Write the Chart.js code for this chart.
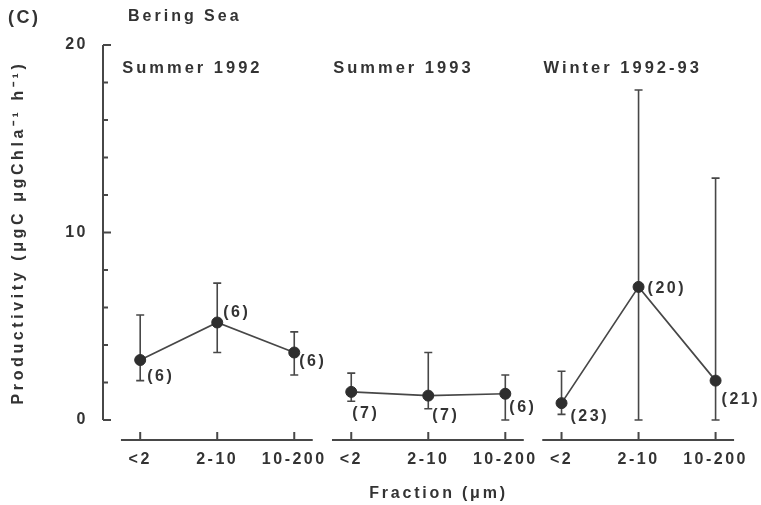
<!DOCTYPE html>
<html>
<head>
<meta charset="utf-8">
<script src="https://cdn.jsdelivr.net/npm/chart.js@4"></script>
<style>
  html, body { margin: 0; padding: 0; background: #fff; }
  #wrap { width: 761px; height: 505px; position: relative; }
</style>
</head>
<body>
<div id="wrap"><canvas id="prodChart"></canvas></div>
<script>
// data
const fractions = ['<2', '2-10', '10-200'];
const seasons = ['Summer 1992', 'Summer 1993', 'Winter 1992-93'];
const meanValues = [[3.2, 5.2, 3.6], [1.5, 1.3, 1.4], [0.9, 7.1, 2.1]];
const upperValues = [[5.6, 7.3, 4.7], [2.5, 3.6, 2.4], [2.6, 17.6, 12.9]];
const lowerValues = [[2.1, 3.6, 2.4], [1.0, 0.6, 0.0], [0.3, 0.0, 0.0]];
const sampleSizes = [[6, 6, 6], [7, 7, 6], [23, 20, 21]];
const yTicks = [0, 10, 20];

// layout
const panelStart = [0, 2.74, 5.47];
const labelOffsets = [
    [[7, 17], [6, -10], [5, 9]],
    [[1, 22], [4, 20], [4, 14]],
    [[9, 13], [9, 2], [6, 19]]
];
const textColor = '#333';
const lineColor = '#474747';
const FONT = '"Liberation Sans", Arial, sans-serif';

const tickPositions = [];
panelStart.forEach(s => fractions.forEach((f, i) => tickPositions.push(s + i)));

const datasets = seasons.map((season, p) => ({
    label: season,
    data: fractions.map((f, i) => ({ x: panelStart[p] + i, y: meanValues[p][i] })),
    borderColor: lineColor,
    borderWidth: 1.7,
    backgroundColor: '#2e2e2e',
    pointBackgroundColor: '#2e2e2e',
    pointBorderColor: '#2e2e2e',
    pointRadius: 5.5,
    pointBorderWidth: 1,
    clip: false
}));

function setSpacing(chart) {
    chart.ctx.letterSpacing = '2.5px';
}

// small tweaks to how the axis titles are drawn
function patchTitle(scale, spacing, shiftX) {
    if (!scale || scale._patchedTitle) return;
    const orig = scale.drawTitle;
    scale.drawTitle = function (...args) {
        const ctx = this.ctx;
        ctx.save();
        ctx.letterSpacing = spacing;
        ctx.translate(shiftX, 0);
        orig.apply(this, args);
        ctx.restore();
    };
    scale._patchedTitle = true;
}

const decorPlugin = {
    id: 'decor',
    beforeUpdate: setSpacing,
    beforeLayout: setSpacing,
    beforeDraw(chart) {
        setSpacing(chart);
        patchTitle(chart.scales.y, '3.6px', 0);
        patchTitle(chart.scales.x, '2.8px', 16);
    },
    beforeDatasetsDraw(chart) {
        const { ctx, scales: { y } } = chart;
        ctx.save();
        ctx.strokeStyle = lineColor;
        ctx.lineWidth = 1.6;
        chart.data.datasets.forEach((ds, p) => {
            chart.getDatasetMeta(p).data.forEach((pt, i) => {
                const top = y.getPixelForValue(upperValues[p][i]);
                const bot = y.getPixelForValue(lowerValues[p][i]);
                ctx.beginPath();
                ctx.moveTo(pt.x, top); ctx.lineTo(pt.x, bot);
                ctx.moveTo(pt.x - 4, top); ctx.lineTo(pt.x + 4, top);
                ctx.moveTo(pt.x - 4, bot); ctx.lineTo(pt.x + 4, bot);
                ctx.stroke();
            });
        });
        ctx.restore();
    },
    afterDatasetsDraw(chart) {
        const { ctx } = chart;
        ctx.save();
        ctx.letterSpacing = '2.5px';
        ctx.fillStyle = textColor;
        ctx.font = 'bold 16px ' + FONT;
        ctx.textAlign = 'left';
        ctx.textBaseline = 'middle';
        chart.data.datasets.forEach((ds, p) => {
            chart.getDatasetMeta(p).data.forEach((pt, i) => {
                const off = labelOffsets[p][i];
                ctx.fillText('(' + sampleSizes[p][i] + ')', pt.x + off[0], pt.y + off[1]);
            });
        });
        ctx.restore();
    },
    afterDraw(chart) {
        const { ctx, chartArea, scales: { x, y } } = chart;
        ctx.save();
        ctx.strokeStyle = lineColor;
        ctx.lineWidth = 2;
        // y axis with inward ticks
        const ax = chartArea.left - 1;
        ctx.beginPath();
        ctx.moveTo(ax, y.getPixelForValue(20));
        ctx.lineTo(ax, y.getPixelForValue(0));
        for (let v = 0; v <= 20; v += 2) {
            const py = y.getPixelForValue(v);
            const len = yTicks.includes(v) ? 8 : 5;
            ctx.moveTo(ax, py);
            ctx.lineTo(ax + len, py);
        }
        ctx.stroke();
        // broken x axis, one segment per season
        const baseY = chartArea.bottom + 20;
        panelStart.forEach(s => {
            ctx.beginPath();
            ctx.moveTo(x.getPixelForValue(s - 0.25), baseY);
            ctx.lineTo(x.getPixelForValue(s + 2.24), baseY);
            fractions.forEach((f, i) => {
                const px = x.getPixelForValue(s + i);
                ctx.moveTo(px, baseY);
                ctx.lineTo(px, baseY - 8);
            });
            ctx.stroke();
        });
        // titles
        ctx.letterSpacing = '2.5px';
        ctx.fillStyle = textColor;
        ctx.textBaseline = 'middle';
        ctx.textAlign = 'left';
        ctx.font = 'bold 18px ' + FONT;
        ctx.fillText('(C)', 8, 18);
        ctx.letterSpacing = '3px';
        ctx.font = 'bold 16px ' + FONT;
        ctx.fillText('Bering Sea', 128, 17);
        ctx.font = 'bold 16.5px ' + FONT;
        seasons.forEach((season, p) => {
            ctx.fillText(season, x.getPixelForValue(panelStart[p]) - 18, 68);
        });
        ctx.restore();
    }
};

new Chart(document.getElementById('prodChart'), {
    type: 'line',
    data: { datasets },
    plugins: [decorPlugin],
    options: {
        responsive: true,
        maintainAspectRatio: false,
        animation: false,
        layout: { padding: { top: 45, left: 0, right: 20, bottom: 0 } },
        plugins: {
            legend: { display: false },
            tooltip: { enabled: false }
        },
        scales: {
            x: {
                type: 'linear',
                min: -0.47,
                max: 7.8,
                afterBuildTicks: scale => {
                    scale.ticks = tickPositions.map(v => ({ value: v }));
                },
                afterFit: scale => {
                    scale.height = 85;
                    scale.paddingLeft = 0;
                    scale.paddingRight = 0;
                },
                grid: { display: false, drawTicks: false },
                border: { display: false },
                ticks: {
                    autoSkip: false,
                    maxRotation: 0,
                    padding: 30,
                    color: textColor,
                    font: { family: FONT, size: 16, weight: 'bold' },
                    callback: (v, i) => fractions[i % fractions.length]
                },
                title: {
                    display: true,
                    text: 'Fraction (\u03bcm)',
                    color: textColor,
                    font: { family: FONT, size: 16, weight: 'bold' },
                    padding: { top: 0, bottom: 2 }
                }
            },
            y: {
                min: 0,
                max: 20,
                afterBuildTicks: scale => {
                    scale.ticks = yTicks.map(v => ({ value: v }));
                },
                afterFit: scale => {
                    scale.width = 104;
                    scale.paddingTop = 0;
                    scale.paddingBottom = 0;
                },
                grid: { display: false, drawTicks: false },
                border: { display: false },
                ticks: {
                    padding: 16,
                    color: textColor,
                    font: { family: FONT, size: 16, weight: 'bold' }
                },
                title: {
                    display: true,
                    text: 'Productivity (\u03bcgC \u03bcgChla\u207b\u00b9 h\u207b\u00b9)',
                    color: textColor,
                    font: { family: FONT, size: 16, weight: 'bold' },
                    padding: { top: 9, bottom: 0 }
                }
            }
        }
    }
});
</script>
</body>
</html>
